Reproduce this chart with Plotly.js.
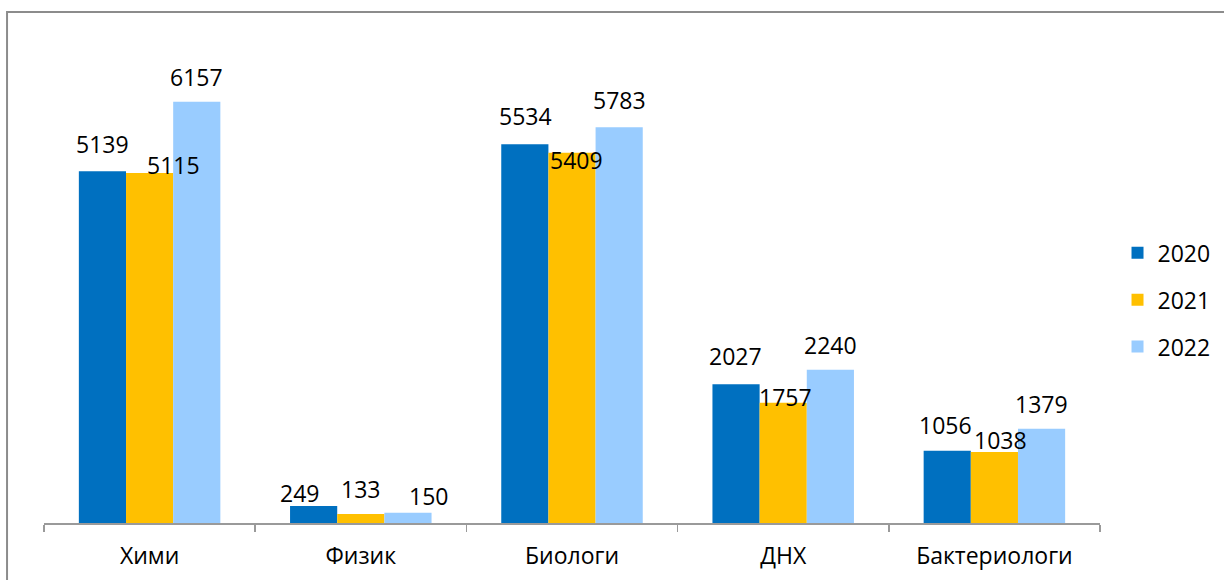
<!DOCTYPE html>
<html><head><meta charset="utf-8">
<script src="https://cdn.plot.ly/plotly-3.0.1.min.js"></script>
<style>html,body{margin:0;padding:0;background:#fff}#c{width:1224px;height:580px}</style>
</head><body><div id="c"></div>
<script>
const categories = ["Хими", "Физик", "Биологи", "ДНХ", "Бактериологи"];
const seriesNames = ["2020", "2021", "2022"];
const v2020 = [5139, 249, 5534, 2027, 1056];
const v2021 = [5115, 133, 5409, 1757, 1038];
const v2022 = [6157, 150, 5783, 2240, 1379];
const colors = ["#0070C0", "#FFC000", "#99CCFF"];
const values = [v2020, v2021, v2022];

// label offsets in px (style), per series per category: [dx, dy]
const labelOffsets = [
  [[0,27],[-14,13],[0,28],[-1,28],[-2,26]],
  [[24,8],[0,25],[4,-7],[2,6],[6,12]],
  [[0,25],[21,17],[0,27],[0,25],[0,25]]
];
const barPx = 47;
const font = "Open Sans, Noto Sans, sans-serif";

const traces = values.map((vals, s) => ({
  type: "bar", x: categories, y: vals, name: seriesNames[s],
  marker: {color: colors[s]}, legendgroup: "g" + s, hoverinfo: "none"
}));

const annotations = [];
values.forEach((vals, s) => {
  vals.forEach((v, i) => {
    annotations.push({
      x: categories[i], y: v, xref: "x", yref: "y", text: String(v),
      showarrow: false, xanchor: "center", yanchor: "middle",
      xshift: (s - 1) * barPx + labelOffsets[s][i][0],
      yshift: labelOffsets[s][i][1],
      font: {family: font, size: 23, color: "#000"}
    });
  });
});

const layout = {
  width: 1224, height: 580,
  margin: {l: 44, r: 124, t: 44, b: 57, autoexpand: false},
  paper_bgcolor: "#fff", plot_bgcolor: "#fff",
  barmode: "group", bargap: 0.33, bargroupgap: 0,
  showlegend: true,
  legend: {xref: "container", yref: "container", x: 0.913, y: 0.483,
    xanchor: "left", yanchor: "middle",
    font: {family: font, size: 23, color: "#000"}, tracegroupgap: 14,
    itemwidth: 30},
  xaxis: {type: "category", showline: true, linecolor: "#9a9a9a", linewidth: 1.5,
    ticks: "outside", tickson: "boundaries", ticklen: 7, tickcolor: "#9a9a9a", tickwidth: 1.5,
    ticklabelstandoff: 12,
    tickfont: {family: font, size: 23, color: "#000"}, showgrid: false, zeroline: false},
  yaxis: {range: [0, 7000], visible: false, showgrid: false, zeroline: false},
  annotations: annotations,
  shapes: [{type: "rect", xref: "paper", yref: "paper",
    x0: -0.035, x1: 1.2, y0: -0.2, y1: 1.067,
    line: {color: "#8c8c8c", width: 2}, fillcolor: "rgba(0,0,0,0)", layer: "below"}]
};
Plotly.newPlot("c", traces, layout, {staticPlot: true});
</script></body></html>
